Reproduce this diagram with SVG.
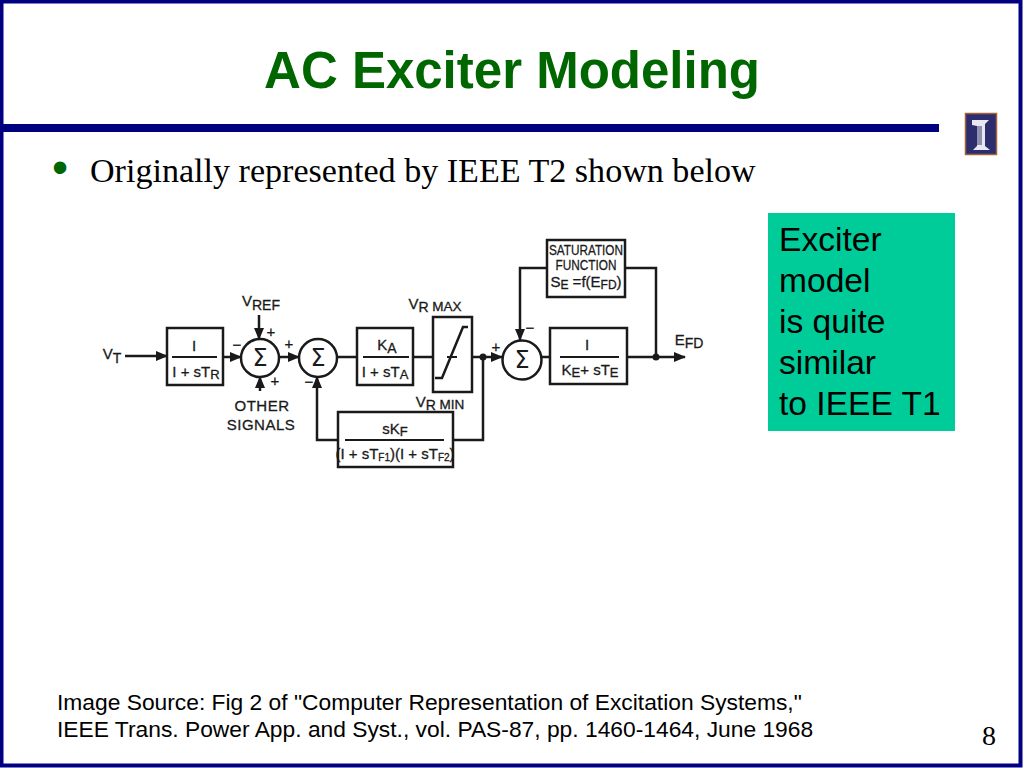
<svg xmlns="http://www.w3.org/2000/svg" width="1024" height="768" viewBox="0 0 1024 768">
<style>
.sans{font-family:"Liberation Sans",Arial,sans-serif}
.serif{font-family:"Liberation Serif","Times New Roman",serif}
.d{font-family:"Liberation Sans",Arial,sans-serif;fill:#1a1a1a;stroke:#1a1a1a;stroke-width:0.3;font-size:15px;text-anchor:middle}
.b{fill:#fff;stroke:#1a1a1a;stroke-width:2.5}
.l{fill:none;stroke:#1a1a1a;stroke-width:2.5}
.frac{stroke:#1a1a1a;stroke-width:2}
.sig{font-family:"DejaVu Sans",sans-serif;font-size:24px;fill:#1a1a1a;text-anchor:middle}
</style>
<defs>
<marker id="a" markerUnits="userSpaceOnUse" markerWidth="12" markerHeight="10" refX="11" refY="5" orient="auto"><path d="M0 0L12 5L0 10Z" fill="#1a1a1a"/></marker>
</defs>
<rect width="1024" height="768" fill="#fff"/>
<rect x="1.500" y="1.500" width="1019" height="764" fill="none" stroke="#000080" stroke-width="4"/>
<rect x="2" y="124" width="937" height="8" fill="#000080"/>
<g id="logo">
<rect x="965.500" y="113.500" width="31" height="41" fill="#2d2d6e" stroke="#a0623a" stroke-width="1.500"/>
<path d="M972 120H989L985 124V146L990 150H973L977 146V126L972 125Z" fill="#e8e8f2"/>
<rect x="977" y="126" width="5" height="19" fill="#8f8fb0"/>
</g>
<text class="sans" x="512" y="88" font-size="51" font-weight="bold" fill="#006600" text-anchor="middle">AC Exciter Modeling</text>
<text class="sans" x="52" y="183" font-size="46" fill="#006600">•</text>
<text class="serif" x="90" y="182" font-size="34.100" fill="#000">Originally represented by IEEE T2 shown below</text>
<g id="note">
<rect x="768" y="213" width="187" height="218" fill="#00cc99"/>
<text class="sans" font-size="33.600" fill="#000"><tspan x="779" y="251">Exciter</tspan><tspan x="779" y="292">model</tspan><tspan x="779" y="333">is quite</tspan><tspan x="779" y="374">similar</tspan><tspan x="779" y="415">to IEEE T1</tspan></text>
</g>
<g id="connectors">
<path class="l" d="M125 356H167" marker-end="url(#a)"/>
<path class="l" d="M223 357H241" marker-end="url(#a)"/>
<path class="l" d="M259 315V339" marker-end="url(#a)"/>
<path class="l" d="M260 391V377" marker-end="url(#a)"/>
<path class="l" d="M279 357H299" marker-end="url(#a)"/>
<path class="l" d="M337 357H357"/>
<path class="l" d="M413 357H433"/>
<path class="l" d="M472 357H502" marker-end="url(#a)"/>
<path class="l" d="M541 357H550"/>
<path class="l" d="M627 357H685" marker-end="url(#a)"/>
<path class="l" d="M547 268H520V340" marker-end="url(#a)"/>
<path class="l" d="M625 268H656V357"/>
<path class="l" d="M453 440H483V357"/>
<path class="l" d="M338 440H317V377" marker-end="url(#a)"/>
<circle cx="483" cy="357" r="3.500" fill="#1a1a1a"/>
<circle cx="656" cy="357" r="3.500" fill="#1a1a1a"/>
</g>
<g id="tr">
<rect class="b" x="167" y="328" width="56" height="57"/>
<path class="frac" d="M172 357H217"/>
<text class="d" x="194" y="351" font-size="16">I</text>
<text class="d" x="196" y="377" font-size="14.500">I + sT<tspan font-size="13" dy="2">R</tspan></text>
</g>
<g id="sum1">
<circle class="b" cx="260" cy="358" r="19"/>
<text class="sig" x="260" y="366">Σ</text>
</g>
<g id="sum2">
<circle class="b" cx="318" cy="358" r="19"/>
<text class="sig" x="318" y="366">Σ</text>
</g>
<g id="ka">
<rect class="b" x="357" y="328" width="56" height="57"/>
<path class="frac" d="M363 357H409"/>
<text class="d" x="387" y="350">K<tspan font-size="14" dy="3">A</tspan></text>
<text class="d" x="385" y="377" font-size="14.500">I + sT<tspan font-size="13" dy="2">A</tspan></text>
</g>
<g id="limiter">
<rect class="b" x="433" y="317" width="39" height="75"/>
<path class="l" d="M435 378H442L463 327H468"/>
<path class="frac" d="M447 357H457"/>
</g>
<g id="sum3">
<circle class="b" cx="522" cy="360" r="19.500"/>
<text class="sig" x="522" y="368">Σ</text>
</g>
<g id="ke">
<rect class="b" x="550" y="328" width="77" height="56"/>
<path class="frac" d="M560 357H619"/>
<text class="d" x="587" y="350" font-size="16">I</text>
<text class="d" x="590" y="375">K<tspan font-size="13" dy="2">E</tspan><tspan dy="-2">+ sT</tspan><tspan font-size="13" dy="2">E</tspan></text>
</g>
<g id="sat">
<rect class="b" x="547" y="240" width="78" height="57"/>
<text class="d" x="586" y="255" font-size="12" textLength="74" lengthAdjust="spacingAndGlyphs">SATURATION</text>
<text class="d" x="586" y="270" font-size="13" textLength="61" lengthAdjust="spacingAndGlyphs">FUNCTION</text>
<text class="d" x="586" y="287" font-size="13.500">S<tspan font-size="12" dy="2">E</tspan><tspan dy="-2"> =f(E</tspan><tspan font-size="12" dy="2">FD</tspan><tspan dy="-2">)</tspan></text>
</g>
<g id="kf">
<rect class="b" x="338" y="412" width="115" height="55"/>
<path class="frac" d="M345 440H444"/>
<text class="d" x="395" y="434">sK<tspan font-size="13" dy="2">F</tspan></text>
<text class="d" x="395" y="459" font-size="11">(I + sT<tspan font-size="10" dy="2">F1</tspan><tspan dy="-2">)(I + sT</tspan><tspan font-size="10" dy="2">F2</tspan><tspan dy="-2">)</tspan></text>
</g>
<g id="labels">
<text class="d" x="112" y="359" font-size="16">V<tspan font-size="14" dy="4">T</tspan></text>
<text class="d" x="261" y="306" font-size="16">V<tspan font-size="14" dy="4">REF</tspan></text>
<text class="d" x="262" y="411" letter-spacing="0.500" font-size="13.500">OTHER</text>
<text class="d" x="261" y="430" letter-spacing="0.500" font-size="13.500">SIGNALS</text>
<text class="d" x="435" y="309">V<tspan font-size="14" dy="3">R</tspan><tspan font-size="13.500" dy="-1"> MAX</tspan></text>
<text class="d" x="440" y="407">V<tspan font-size="14" dy="3">R</tspan><tspan font-size="13.500" dy="-1"> MIN</tspan></text>
<text class="d" x="689" y="345" font-size="16">E<tspan font-size="14" dy="3">FD</tspan></text>
<text class="d" x="271" y="337" font-size="16">+</text>
<text class="d" x="275" y="386" font-size="16">+</text>
<text class="d" x="289" y="349" font-size="16">+</text>
<text class="d" x="237" y="350" font-size="16">−</text>
<text class="d" x="309" y="387" font-size="16">−</text>
<text class="d" x="496" y="352" font-size="16">+</text>
<text class="d" x="530" y="333" font-size="16">−</text>
</g>
<text class="sans" font-size="22.800" fill="#000"><tspan x="57" y="710">Image Source: Fig 2 of "Computer Representation of Excitation Systems,"</tspan><tspan x="57" y="737">IEEE Trans. Power App. and Syst., vol. PAS-87, pp. 1460-1464, June 1968</tspan></text>
<text class="serif" x="982" y="745" font-size="28" fill="#000">8</text>
</svg>
